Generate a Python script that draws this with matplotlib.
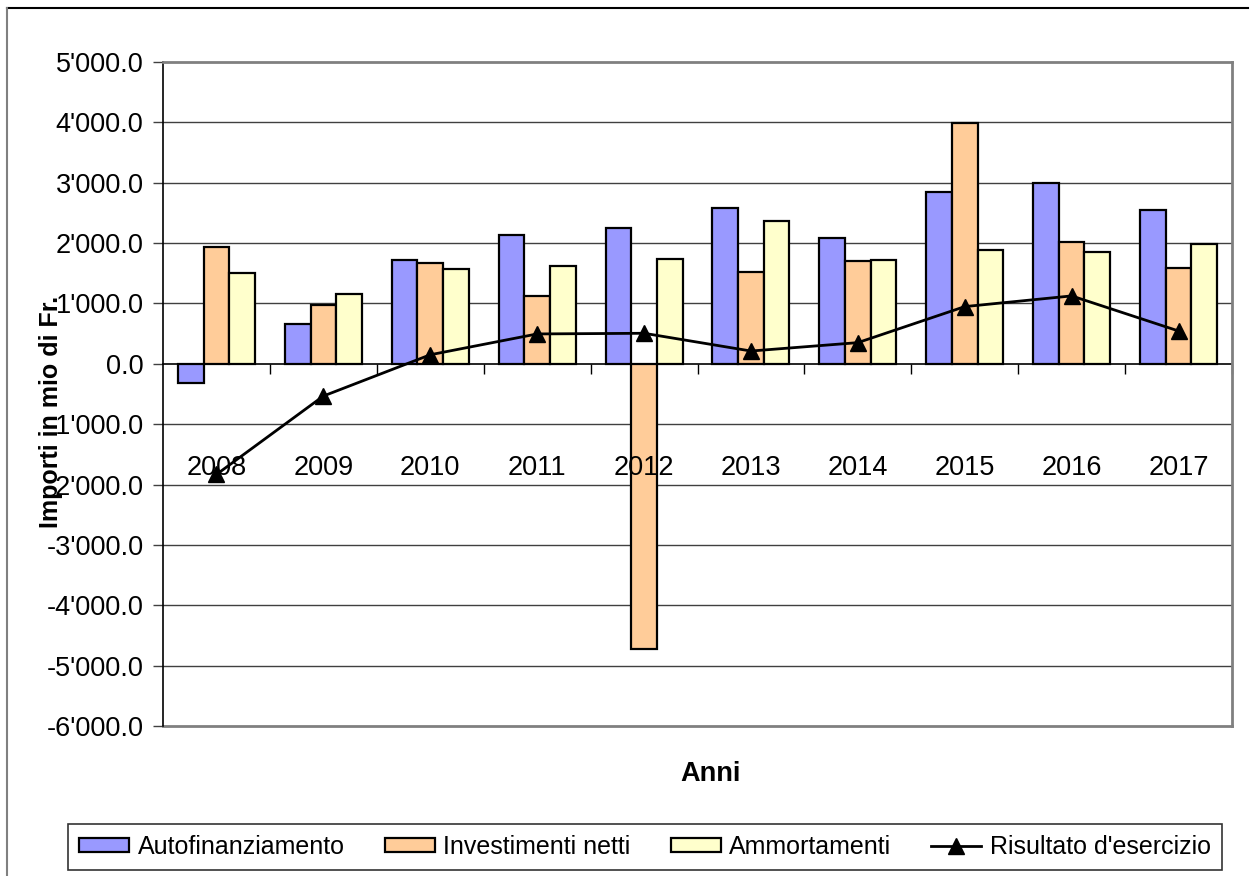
import numpy as np
import matplotlib
matplotlib.use("Agg")
import matplotlib.pyplot as plt
from matplotlib.lines import Line2D
from matplotlib.patches import Patch

plt.rcParams['font.family'] = ['Liberation Sans', 'DejaVu Sans']

anni = ['2008', '2009', '2010', '2011', '2012', '2013', '2014', '2015', '2016', '2017']
autofinanziamento = [-310, 655, 1716, 2131, 2242, 2579, 2086, 2844, 2988, 2551]
investimenti = [1927, 975, 1667, 1124, -4718, 1529, 1705, 3983, 2020, 1595]
ammortamenti = [1512, 1164, 1567, 1628, 1733, 2368, 1728, 1887, 1854, 1993]
risultato = [-1833, -534, 150, 495, 506, 212, 351, 948, 1125, 544]

fig = plt.figure(figsize=(12.51, 8.76), dpi=100)
ax = fig.add_axes([163/1251, 1 - 726/876, (1232 - 163)/1251, (726 - 62)/876])

x = np.arange(len(anni))
w = 0.24
ax.bar(x - w, autofinanziamento, w, color='#9999FF', edgecolor='black', linewidth=1.6, zorder=3)
ax.bar(x, investimenti, w, color='#FFCC99', edgecolor='black', linewidth=1.6, zorder=3)
ax.bar(x + w, ammortamenti, w, color='#FFFFCC', edgecolor='black', linewidth=1.6, zorder=3)
ax.plot(x, risultato, color='black', linewidth=2, marker='^', markersize=11, zorder=4)

ax.set_xlim(-0.5, len(anni) - 0.5)
ax.set_ylim(-6000, 5000)
yt = np.arange(-6000, 5001, 1000)
ax.set_yticks(yt)
ax.set_yticklabels([f"{v:,.1f}".replace(',', "'") for v in yt], fontsize=19.5)
ax.tick_params(axis='y', direction='out', length=7, width=1, color='#404040', pad=7)
for v in yt[1:-1]:
    if v != 0:
        ax.axhline(v, color='#404040', linewidth=1, zorder=1)

# asse delle categorie sullo zero
ax.spines['bottom'].set_position(('data', 0))
ax.spines['bottom'].set_color('black')
ax.spines['bottom'].set_linewidth(1.2)
ax.spines['bottom'].set_zorder(2)
ax.set_xticks(x + 0.5)
ax.set_xticklabels([])
ax.tick_params(axis='x', direction='out', length=7, width=1, color='black')
for i, a in enumerate(anni):
    ax.annotate(a, xy=(i, 0), xytext=(0, -75), textcoords='offset points',
                ha='center', va='center', fontsize=19.5, zorder=5)

ax.spines['left'].set_color('black')
ax.spines['left'].set_linewidth(1.2)
ax.spines['top'].set_color('#808080')
ax.spines['top'].set_linewidth(2)
ax.spines['right'].set_color('#808080')
ax.spines['right'].set_linewidth(2)
ax.axhline(-6000, color='#808080', linewidth=2, clip_on=False, zorder=2)

fig.text(51/1251, 1 - 412/876, 'Importi in mio di Fr.', rotation=90, fontsize=18,
         fontweight='bold', ha='center', va='center')
fig.text(711/1251, 1 - 774/876, 'Anni', fontsize=19.5, fontweight='bold', ha='center', va='center')

# cornice della figura
fig.add_artist(Line2D([7/1251, 1248/1251], [1 - 8/876, 1 - 8/876], color='black', linewidth=1.5,
                      transform=fig.transFigure))
fig.add_artist(Line2D([7/1251, 7/1251], [1 - 8/876, 0], color='#808080', linewidth=1.5,
                      transform=fig.transFigure))

handles = [Patch(facecolor='#9999FF', edgecolor='black', linewidth=1.6),
           Patch(facecolor='#FFCC99', edgecolor='black', linewidth=1.6),
           Patch(facecolor='#FFFFCC', edgecolor='black', linewidth=1.6),
           Line2D([], [], color='black', linewidth=2, marker='^', markersize=11)]
labels = ['Autofinanziamento', 'Investimenti netti', 'Ammortamenti', "Risultato d'esercizio"]
leg = fig.legend(handles, labels, loc='center', bbox_to_anchor=(645/1251, 1 - 847/876), ncol=4,
                 fontsize=18, frameon=True, fancybox=False, edgecolor='black',
                 handlelength=2.0, handleheight=0.5, handletextpad=0.35, columnspacing=1.6,
                 borderpad=0.45)
leg.get_frame().set_linewidth(1.2)
leg_box = leg.get_frame()

fig.savefig('out.png', dpi=100, facecolor='white')
